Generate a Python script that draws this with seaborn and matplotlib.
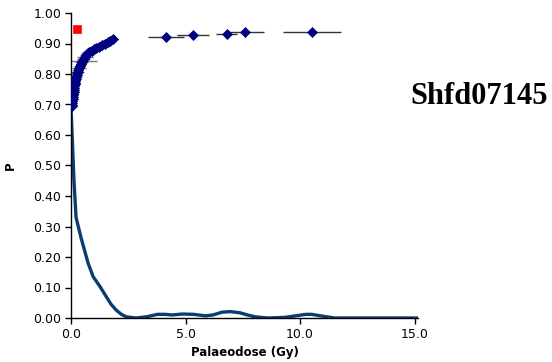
import matplotlib
matplotlib.use("Agg")
import matplotlib.pyplot as plt
import seaborn as sns
import pandas as pd
import numpy as np
from matplotlib.ticker import FormatStrFormatter, MultipleLocator

# Cluster of aliquots (dose, cumulative P, dose error)
cluster_dose = [0.03, 0.04, 0.05, 0.06, 0.07, 0.08, 0.09, 0.10, 0.11, 0.12,
                0.13, 0.14, 0.16, 0.17, 0.19, 0.21, 0.23, 0.25, 0.27, 0.30,
                0.32, 0.35, 0.38, 0.42, 0.46, 0.50, 0.55, 0.60, 0.66, 0.73,
                0.80, 0.90, 1.00, 1.10, 1.22, 1.35, 1.48, 1.60, 1.72, 1.85]
cluster_p = [0.695, 0.700, 0.706, 0.712, 0.718, 0.724, 0.730, 0.736, 0.742, 0.748,
             0.754, 0.760, 0.766, 0.772, 0.778, 0.784, 0.790, 0.796, 0.802, 0.808,
             0.814, 0.820, 0.826, 0.832, 0.838, 0.844, 0.850, 0.856, 0.862, 0.868,
             0.873, 0.877, 0.881, 0.885, 0.889, 0.894, 0.899, 0.904, 0.909, 0.915]
cluster_err = [0.10, 0.12, 0.15, 0.10, 0.18, 0.12, 0.20, 0.15, 0.22, 0.14,
               0.18, 0.20, 0.25, 0.16, 0.22, 0.20, 0.25, 0.18, 0.22, 0.28,
               0.20, 0.30, 0.25, 0.22, 0.30, 0.65, 0.28, 0.35, 0.25, 0.30,
               0.28, 0.20, 0.22, 0.18, 0.20, 0.15, 0.18, 0.20, 0.15, 0.20]

# Outlying aliquots
outer_dose = [4.14, 5.33, 6.80, 7.59, 10.53]
outer_p = [0.921, 0.927, 0.932, 0.937, 0.939]
outer_err = [0.80, 0.70, 0.45, 0.85, 1.28]

# Red marker
red_dose = [0.25]
red_p = [0.947]

# Probability density curve
curve_dose = [0.00, 0.13, 0.22, 0.45, 0.75, 0.97, 1.25, 1.54, 1.75, 1.97, 2.20,
              2.40, 2.84, 3.30, 3.78, 4.10, 4.42, 4.86, 5.36, 5.87, 6.20, 6.59,
              6.95, 7.38, 7.70, 8.03, 8.60, 9.33, 9.80, 10.26, 10.50, 10.90,
              11.50, 12.50, 15.15]
curve_p = [0.690, 0.450, 0.330, 0.260, 0.179, 0.135, 0.105, 0.070, 0.045, 0.026, 0.012,
           0.004, 0.000, 0.004, 0.012, 0.012, 0.010, 0.013, 0.012, 0.007, 0.010, 0.019,
           0.021, 0.017, 0.010, 0.004, 0.000, 0.002, 0.007, 0.012, 0.012, 0.007,
           0.000, 0.000, 0.000]

sns.set_style("ticks")
plt.rcParams['font.family'] = ['DejaVu Sans']
plt.rcParams['text.color'] = 'black'
plt.rcParams['axes.labelcolor'] = 'black'

fig = plt.figure(figsize=(5.52, 3.62), dpi=100)
ax = fig.add_axes([71/552, 44/362, 347/552, 305/362])

curve_df = pd.DataFrame({"dose": curve_dose, "p": curve_p})
sns.lineplot(data=curve_df, x="dose", y="p", ax=ax, color="#0b3c71",
             linewidth=2.4, sort=False, zorder=2)

# error bars
ax.errorbar(cluster_dose, cluster_p, xerr=cluster_err, fmt='none',
            ecolor="#7a7a7a", elinewidth=1.0, capsize=0, zorder=1)
ax.errorbar(outer_dose, outer_p, xerr=outer_err, fmt='none',
            ecolor="#333333", elinewidth=1.0, capsize=0, zorder=1)

pts_df = pd.DataFrame({"dose": cluster_dose + outer_dose,
                       "p": cluster_p + outer_p})
sns.scatterplot(data=pts_df, x="dose", y="p", ax=ax, marker="D", s=26,
                color="#000080", edgecolor="#000080", linewidth=0.5, zorder=3)
ax.plot(cluster_dose, cluster_p, color="#000080", linewidth=5, zorder=3,
        solid_capstyle='round')

red_df = pd.DataFrame({"dose": red_dose, "p": red_p})
sns.scatterplot(data=red_df, x="dose", y="p", ax=ax, marker="s", s=36,
                color="#ff0000", edgecolor="#ff0000", zorder=4)

ax.set_xlim(0, 15.15)
ax.set_ylim(0, 1.0)
ax.xaxis.set_major_locator(MultipleLocator(5))
ax.yaxis.set_major_locator(MultipleLocator(0.1))
ax.xaxis.set_major_formatter(FormatStrFormatter('%.1f'))
ax.yaxis.set_major_formatter(FormatStrFormatter('%.2f'))
ax.tick_params(labelsize=9, length=4, width=1, colors='black', pad=3)
sns.despine(ax=ax)
for s in ['left', 'bottom']:
    ax.spines[s].set_color('black')
    ax.spines[s].set_linewidth(1)

ax.set_xlabel("Palaeodose (Gy)", fontsize=8.5, fontweight='bold', labelpad=4,
              color='black')
ax.set_ylabel("P", fontsize=8.5, fontweight='bold', labelpad=12, rotation=90,
              color='black')

fig.text(548/552, 1 - 96/362, "Shfd07145", ha='right', va='center',
         fontsize=22, fontweight='bold', family=['Liberation Serif'],
         color='black')

fig.savefig("out.png", dpi=100)
